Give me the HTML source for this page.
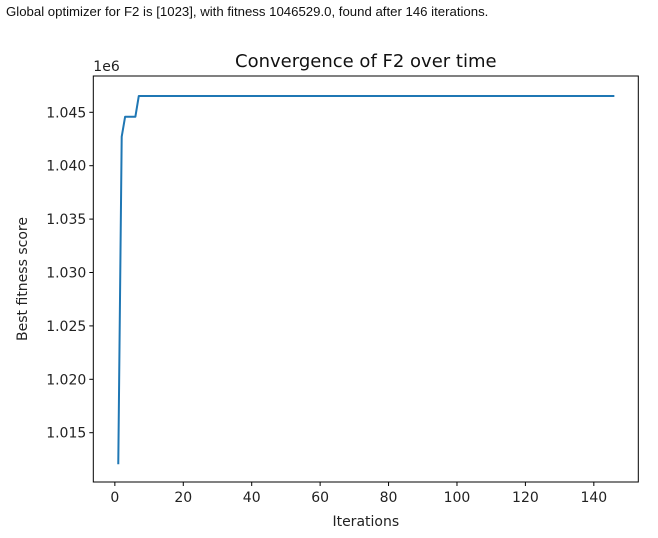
<!DOCTYPE html>
<html><head><meta charset="utf-8"><style>
body{margin:0;background:#fff;width:658px;height:538px;overflow:hidden;font-family:"Liberation Sans","DejaVu Sans",sans-serif}
#hdr{position:absolute;left:6px;top:4px;font-size:13.2px;color:#111}
svg{position:absolute;left:0;top:0}
</style></head><body>
<div id="hdr">Global optimizer for F2 is [1023], with fitness 1046529.0, found after 146 iterations.</div>
<svg id="chart" width="658" height="538" font-family="DejaVu Sans, Liberation Sans, sans-serif"></svg>
<script>
const iterations = [1, 2, 3, 6, 7, 146];
const fitness = [1012041, 1042715, 1044588, 1044588, 1046529, 1046529];
const xTicks = [0, 20, 40, 60, 80, 100, 120, 140];
const yTicks = [1015000, 1020000, 1025000, 1030000, 1035000, 1040000, 1045000];
const yTickLabels = ["1.015", "1.020", "1.025", "1.030", "1.035", "1.040", "1.045"];

const L = 93.3, R = 638.3, T = 76, B = 482;
const xmin = -6.3, xmax = 153.0;
const ymin = 1010384, ymax = 1048399;
const sx = v => L + (v - xmin) / (xmax - xmin) * (R - L);
const sy = v => B - (v - ymin) / (ymax - ymin) * (B - T);
const svg = document.getElementById('chart');
const NS = 'http://www.w3.org/2000/svg';
function mk(tag, attrs, text) {
  const e = document.createElementNS(NS, tag);
  for (const k in attrs) e.setAttribute(k, attrs[k]);
  if (text !== undefined) e.textContent = text;
  svg.appendChild(e);
  return e;
}
const pts = iterations.map((x, i) => sx(x).toFixed(2) + ',' + sy(fitness[i]).toFixed(2)).join(' ');
const line = mk('polyline', {points: pts, fill: 'none', stroke: '#1f77b4', 'stroke-width': 2, 'stroke-linejoin': 'round'});


const frame = mk('rect', {x: L, y: T, width: R - L, height: B - T, fill: 'none', stroke: '#000', 'stroke-width': 1});


xTicks.forEach(v => {
  const x = sx(v);
  const t = mk('line', {x1: x, x2: x, y1: B, y2: B + 4, stroke: '#000'});
  
  
  const lb = mk('text', {x: x, y: B + 20, 'text-anchor': 'middle', 'font-size': 14, fill: '#222'}, String(v));
  
  
});
yTicks.forEach((v, i) => {
  const y = sy(v);
  const t = mk('line', {x1: L - 4, x2: L, y1: y, y2: y, stroke: '#000'});
  
  
  const lb = mk('text', {x: L - 7, y: y + 5, 'text-anchor': 'end', 'font-size': 14, fill: '#222'}, yTickLabels[i]);
  
  
});
const off = mk('text', {x: L, y: T - 5, 'font-size': 14, fill: '#222'}, '1e6');


const title = mk('text', {x: (L + R) / 2, y: T - 9, 'text-anchor': 'middle', 'font-size': 18, fill: '#111'}, 'Convergence of F2 over time');


const xl = mk('text', {x: (L + R) / 2, y: 526, 'text-anchor': 'middle', 'font-size': 14, fill: '#222'}, 'Iterations');


const yl = mk('text', {x: 0, y: 0, 'text-anchor': 'middle', 'font-size': 14, fill: '#222', transform: 'translate(27,' + ((T + B) / 2) + ') rotate(-90)'}, 'Best fitness score');


</script>
</body></html>
